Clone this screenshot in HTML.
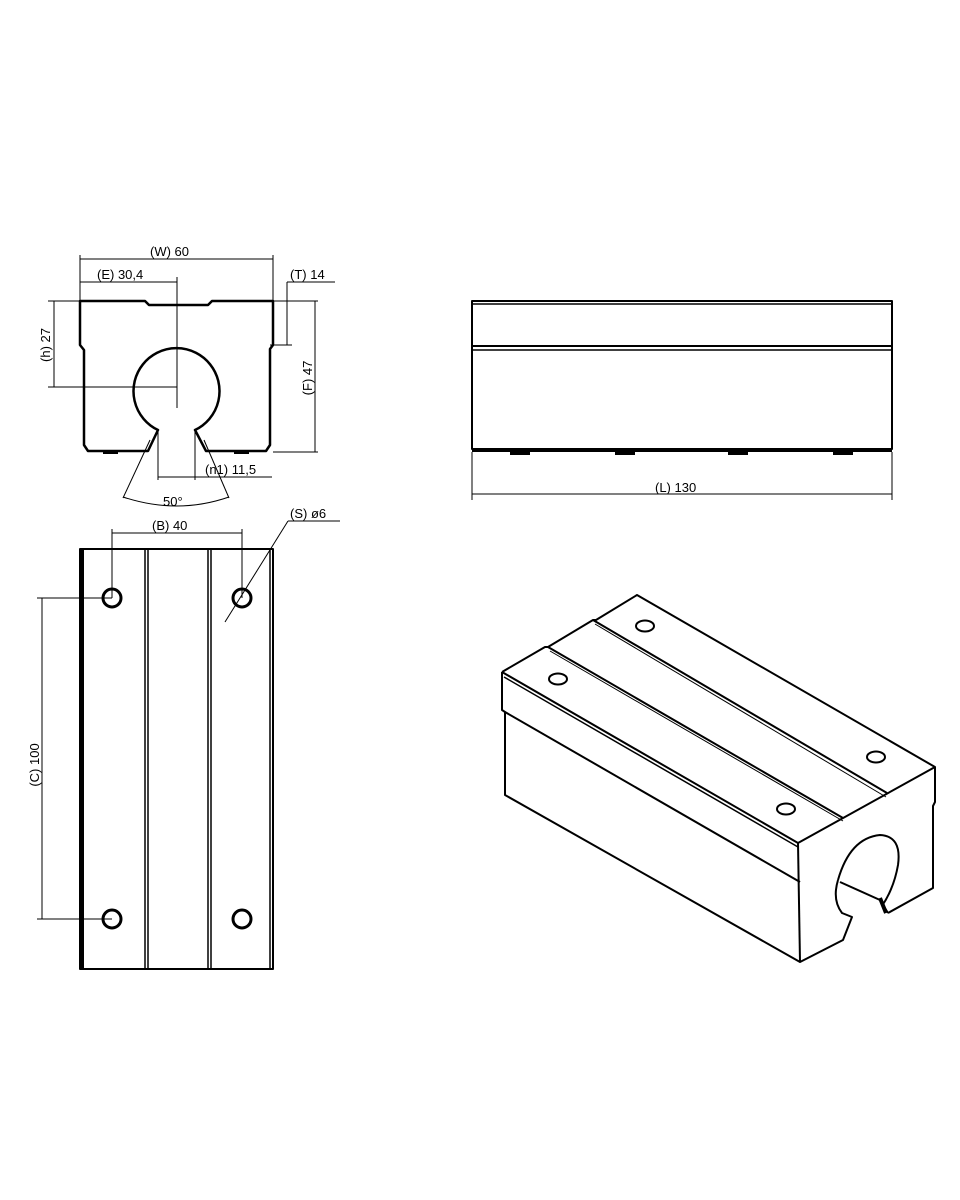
<!DOCTYPE html>
<html><head><style>html,body{margin:0;padding:0;background:#fff}svg{display:block}</style></head>
<body>
<svg width="960" height="1200" viewBox="0 0 960 1200" xmlns="http://www.w3.org/2000/svg" font-family="Liberation Sans, sans-serif" font-size="13" fill="none" stroke="#000" stroke-linejoin="round">
<!-- FRONT VIEW -->
<g stroke-width="1">
<line x1="80" y1="255" x2="80" y2="301"/><line x1="273" y1="255" x2="273" y2="301"/>
<line x1="80" y1="259" x2="273" y2="259"/>
<line x1="80" y1="282" x2="177" y2="282"/>
<line x1="177" y1="277" x2="177" y2="408"/>
<line x1="48" y1="301" x2="80" y2="301"/><line x1="48" y1="387" x2="177" y2="387"/>
<line x1="54" y1="301" x2="54" y2="387"/>
<line x1="273" y1="301" x2="318" y2="301"/><line x1="273" y1="452" x2="318" y2="452"/>
<line x1="315" y1="301" x2="315" y2="452"/>
<line x1="287" y1="282" x2="287" y2="345"/><line x1="287" y1="282" x2="335" y2="282"/>
<line x1="270" y1="345" x2="292" y2="345"/>
<line x1="158" y1="430" x2="158" y2="480"/><line x1="195" y1="430" x2="195" y2="480"/>
<line x1="158" y1="477" x2="272" y2="477"/>
<line x1="150" y1="440" x2="123" y2="498"/><line x1="204" y1="440" x2="229" y2="498"/>
<path d="M123 497 Q177 515 229 497"/>
</g>
<path d="M80 301 L145 301 L149 305 L208 305 L212 301 L273 301 L273 345 L270 349 L270 445 L266 451 L206 451 L195 430 A43 43 0 1 0 158 430 L148 451 L88 451 L84 445 L84 350 L80 345 Z" stroke-width="2.5"/>
<g fill="#000" stroke="none">
<rect x="103" y="451" width="15" height="3"/><rect x="234" y="451" width="15" height="3"/>
<text x="150" y="256">(W) 60</text>
<text x="97" y="279">(E) 30,4</text>
<text x="290" y="279">(T) 14</text>
<text x="205" y="474">(n1) 11,5</text>
<text x="163" y="506">50°</text>
<text transform="translate(50,345) rotate(-90)" text-anchor="middle">(h) 27</text>
<text transform="translate(312,378) rotate(-90)" text-anchor="middle">(F) 47</text>
</g>
<!-- TOP VIEW -->
<g stroke-width="1">
<line x1="112" y1="529" x2="112" y2="598"/><line x1="242" y1="529" x2="242" y2="598"/>
<line x1="112" y1="533" x2="242" y2="533"/>
<line x1="288" y1="521" x2="340" y2="521"/><line x1="288" y1="521" x2="225" y2="622"/>
<line x1="37" y1="598" x2="112" y2="598"/><line x1="37" y1="919" x2="112" y2="919"/>
<line x1="42" y1="598" x2="42" y2="919"/>
</g>
<rect x="80" y="549" width="193" height="420" stroke-width="2"/>
<line x1="82" y1="549" x2="82" y2="969" stroke-width="4"/>
<g stroke-width="1.5">
<line x1="145" y1="549" x2="145" y2="969"/><line x1="148" y1="549" x2="148" y2="969"/>
<line x1="208" y1="549" x2="208" y2="969"/><line x1="211" y1="549" x2="211" y2="969"/>
<line x1="270" y1="549" x2="270" y2="969"/>
</g>
<g stroke-width="3">
<circle cx="112" cy="598" r="9"/><circle cx="242" cy="598" r="9"/>
<circle cx="112" cy="919" r="9"/><circle cx="242" cy="919" r="9"/>
</g>
<g fill="#000" stroke="none">
<text x="152" y="530">(B) 40</text>
<text x="290" y="518">(S) ø6</text>
<text transform="translate(39,765) rotate(-90)" text-anchor="middle">(C) 100</text>
</g>
<!-- SIDE VIEW -->
<rect x="472" y="301" width="420" height="148" stroke-width="2"/>
<line x1="472" y1="304" x2="892" y2="304" stroke-width="1.5"/>
<line x1="472" y1="346" x2="892" y2="346" stroke-width="2"/>
<line x1="472" y1="350" x2="892" y2="350" stroke-width="1.5"/>
<line x1="472" y1="450" x2="892" y2="450" stroke-width="4"/>
<g fill="#000" stroke="none">
<rect x="510" y="450" width="20" height="5"/><rect x="615" y="450" width="20" height="5"/>
<rect x="728" y="450" width="20" height="5"/><rect x="833" y="450" width="20" height="5"/>
<text x="655" y="492">(L) 130</text>
</g>
<g stroke-width="1"><line x1="472" y1="452" x2="472" y2="500"/><line x1="892" y1="452" x2="892" y2="500"/>
<line x1="472" y1="494" x2="892" y2="494"/></g>
<!-- ISO VIEW -->
<g stroke-width="2">
<path d="M502 672 L545 647 L548 647 L593 620 L596 620 L637 595 L935 767 L935 802 L933 806 L933 888 L888 913"/>
<path d="M502 672 L798 843 L935 767"/>
<path d="M502 672 L502 710 L505 712 L505 795 L800 962 L843 940 L852 917 L842 913 Q832 900 838 880"/>
<line x1="798" y1="843" x2="800" y2="962"/>
<line x1="505" y1="712" x2="800" y2="882"/>
<line x1="504" y1="677" x2="798" y2="847" stroke-width="1.5"/>
<line x1="548" y1="647" x2="843" y2="818"/>
<line x1="550" y1="651" x2="843" y2="821" stroke-width="1"/>
<line x1="593" y1="620" x2="887" y2="793"/>
<line x1="595" y1="624" x2="886" y2="797" stroke-width="1"/>
<path d="M838 880 Q850 838 880 835 Q902 836 898 865 Q894 888 882 906"/>
<path d="M840 882 L880 900 L888 913"/>
<line x1="880" y1="898" x2="886" y2="913" stroke-width="4"/>
<ellipse cx="645" cy="626" rx="9" ry="5.5"/><ellipse cx="558" cy="679" rx="9" ry="5.5"/>
<ellipse cx="876" cy="757" rx="9" ry="5.5"/><ellipse cx="786" cy="809" rx="9" ry="5.5"/>
</g>
</svg>
</body></html>
